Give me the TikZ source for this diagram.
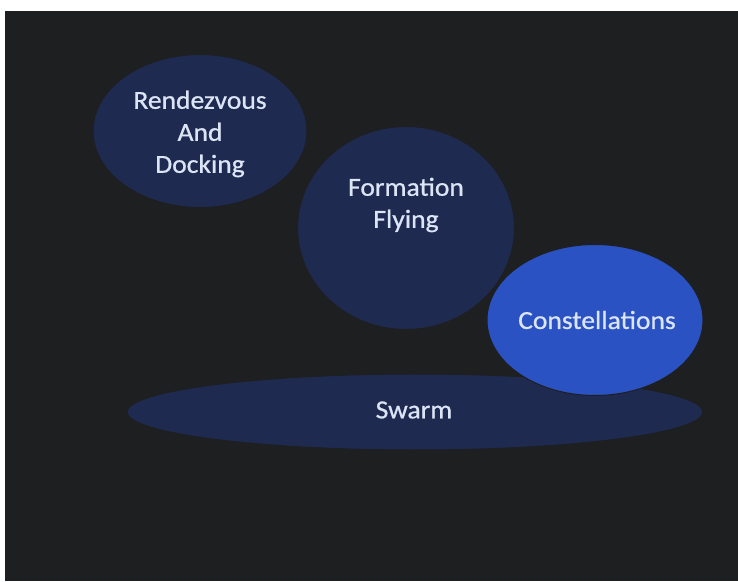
\documentclass[tikz,border=0pt]{standalone}
\usepackage{fontspec}
\setmainfont{Carlito}
\newfontfamily\lblfont[FakeBold=0.7]{Carlito}
\usetikzlibrary{shapes.geometric}
\definecolor{bg}{HTML}{1D1F20}
\definecolor{navy}{HTML}{1F2A50}
\definecolor{bright}{HTML}{2B52C3}
\definecolor{txt}{HTML}{DCE5F5}
\tikzset{
  blob/.style={ellipse, draw=bg, line width=1pt, inner sep=0pt},
  lbl/.style={text=txt, font=\lblfont\fontsize{26}{32}\selectfont, align=center, inner sep=0pt, xscale=1.06}
}
\begin{document}
\begin{tikzpicture}[x=1pt,y=1pt]
\fill[white] (0,0) rectangle (738,581);
\fill[bg] (5,0) rectangle (738,570);
\useasboundingbox (0,0) rectangle (738,581);
% shapes (y = 581 - pixel y)
\node[blob, fill=navy, minimum width=576, minimum height=76] (swarm) at (415,169) {};
\node[blob, fill=navy, minimum width=214, minimum height=153] (rdv) at (200,450) {};
\node[blob, fill=navy, minimum width=217, minimum height=203] (ff) at (406,353) {};
\node[blob, fill=bright, minimum width=216, minimum height=151] (con) at (595,261) {};
% texts
\node[lbl] (trdv) at (200,447) {Rendezvous\\And\\Docking};
\node[lbl] (tff) at (406,376) {Formation\\Flying};
\node[lbl] (tcon) at (597,261) {Constellations};
\node[lbl] (tswarm) at (414,171) {Swarm};
\end{tikzpicture}
\end{document}
